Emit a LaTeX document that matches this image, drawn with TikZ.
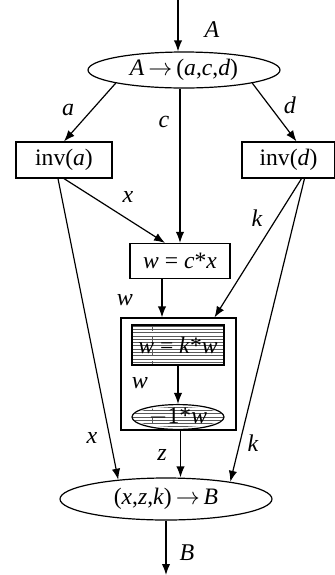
\documentclass[tikz,border=0pt]{standalone}
\usepackage{fontspec}
\setmainfont{Liberation Serif}
\usetikzlibrary{arrows.meta,shapes.geometric}
\begin{document}
\begin{tikzpicture}[x=0.5pt,y=-0.5pt,
  every node/.style={font=\fontsize{11.8}{14}\selectfont, inner sep=0pt},
  ell/.style={draw, ellipse, line width=0.6pt},
  box/.style={draw, rectangle, line width=0.6pt},
  arr/.style={-{Latex[length=5.5pt,width=4.2pt]}, line width=0.6pt},
  hatch/.style={line width=0.35pt,black!65},
  lbl/.style={font=\fontsize{12}{14}\selectfont\itshape}]
\useasboundingbox (0,0) rectangle (335,575);
% nodes
\node[ell, minimum width=96pt, minimum height=18pt] (e1) at (184,70) {\textit{A}\,$\rightarrow$\,(\textit{a},\textit{c},\textit{d})};
\node[box, minimum width=48pt, minimum height=18pt] (inva) at (64,160) {inv(\textit{a})};
\node[box, minimum width=46.5pt, minimum height=18pt] (invd) at (288.5,160) {inv(\textit{d})};
\node[box, minimum width=50pt, minimum height=17.5pt] (wcx) at (180,261) {\textit{w} = \textit{c}*\textit{x}};
\node[box, minimum width=57.5pt, minimum height=56pt] (outer) at (178.5,374) {};
% hatched inner shapes
\begin{scope}
  \clip (132,325) rectangle (224,365);
  \foreach \yy in {326,329.3,...,365} \draw[hatch] (132,\yy) -- (224,\yy);
  \draw[hatch,dashed] (152,325) -- (152,365);
\end{scope}
\begin{scope}
  \clip (178,417) ellipse [x radius=46, y radius=10];
  \foreach \yy in {407,410.3,...,428} \draw[hatch] (132,\yy) -- (224,\yy);
  \draw[hatch,dashed] (152,405) -- (152,430);
\end{scope}
\node[box, minimum width=46pt, minimum height=20pt] (hr) at (178,345) {\textit{w} = \textit{k}*\textit{w}};
\node[ell, minimum width=46pt, minimum height=10pt] (se) at (178,417) {$-$1*\textit{w}};
\node[ell, minimum width=106pt, minimum height=21pt] (e2) at (166,499) {(\textit{x},\textit{z},\textit{k})\,$\rightarrow$\,\textit{B}};
% free ends
\coordinate (tin) at (178,0);
\coordinate (bout) at (166,575);
% connectors
\draw[arr] (tin) -- (tin |- e1.north);
\draw[arr] (e1.south west) -- (inva.north);
\draw[arr] (e1.south east) -- ([xshift=4pt]invd.north);
\draw[arr] (wcx.north |- e1.south) -- (wcx.north);
\draw[arr] (inva.south) -- ([xshift=-7.5pt]wcx.north);
\draw[arr] ([xshift=-3pt]inva.south) -- (e2.158);
\draw[arr] ([xshift=6.5pt]invd.south) -- ([xshift=18pt]outer.north);
\draw[arr] ([xshift=8pt]invd.south) -- (e2.15);
\draw[arr] ([xshift=-9pt]wcx.south) -- ([xshift=-9pt]wcx.south |- outer.north);
\draw[arr] (hr.south) -- (se.north);
\draw[arr] ([xshift=1pt]outer.south) -- ([xshift=1pt]outer.south |- e2.north);
\draw[arr] (e2.south) -- (bout);
% labels
\node[lbl] at (212,30) {A};
\node[lbl] at (68,110) {a};
\node[lbl] at (164,122) {c};
\node[lbl] at (290,105) {d};
\node[lbl] at (128,197) {x};
\node[lbl] at (257,218) {k};
\node[lbl] at (125,300) {w};
\node[lbl] at (140,383) {w};
\node[lbl] at (92,438) {x};
\node[lbl] at (162,455) {z};
\node[lbl] at (253,443) {k};
\node[lbl] at (187,553) {B};
\end{tikzpicture}
\end{document}
